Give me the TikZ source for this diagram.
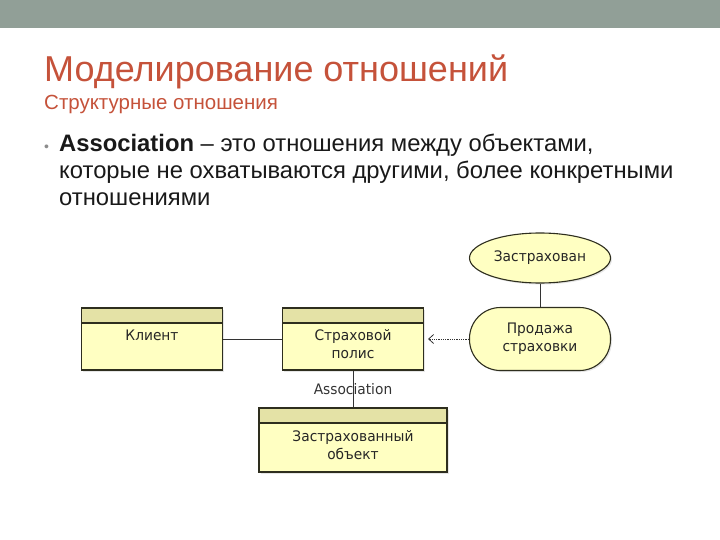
\documentclass[tikz,border=0pt]{standalone}
\usepackage{fontspec}
\setmainfont{Liberation Sans}
\newfontfamily\titlefont{Liberation Sans}
\newfontfamily\diafont[FakeStretch=0.95]{DejaVu Sans}
\usetikzlibrary{positioning,shapes.geometric,arrows.meta,shadows}
\definecolor{barcol}{HTML}{919F97}
\definecolor{titlecol}{HTML}{C5523A}
\definecolor{umlbody}{HTML}{FFFFC2}
\definecolor{umlhead}{HTML}{E4E2A6}
\definecolor{umlline}{HTML}{2E2E1E}
\tikzset{
  umlshadow/.style = {drop shadow={opacity=0.2, shadow xshift=1.5pt, shadow yshift=-1.5pt}},
  clsbox/.style    = {rectangle, draw=umlline, line width=1.1pt, fill=umlbody, umlshadow,
                      align=center, inner sep=0pt, minimum width=141pt,
                      text height=32pt, text depth=30pt,
                      font=\diafont\fontsize{14.5}{18}\selectfont, text=black!85,
                      path picture={
                        \fill[umlhead] (path picture bounding box.north west)
                          rectangle ([yshift=-15pt]path picture bounding box.north east);
                        \draw[umlline, line width=1.1pt]
                          ([yshift=-15pt]path picture bounding box.north west)
                          -- ([yshift=-15pt]path picture bounding box.north east);}},
  usecase/.style   = {draw=umlline, line width=1.1pt, fill=umlbody, umlshadow,
                      align=center, inner sep=0pt, minimum width=141pt,
                      font=\diafont\fontsize{14.5}{18}\selectfont, text=black!85},
  link/.style      = {draw=black!80, line width=0.8pt},
  dep/.style       = {link, densely dotted, -{Straight Barb[length=5pt,width=9pt]}, shorten >=4pt},
}

\begin{document}
\begin{tikzpicture}[x=1pt, y=-1pt]
  \useasboundingbox (0,0) rectangle (720,540);
  \fill[barcol] (0,0) rectangle (720,28);

  % heading
  \node[anchor=base west, inner sep=0pt, text=titlecol,
        font=\titlefont\fontsize{36}{40}\selectfont] (title) at (44,82) {Моделирование отношений};
  \node[anchor=base west, inner sep=0pt, text=titlecol,
        font=\titlefont\fontsize{20.5}{24}\selectfont] (subtitle) at (44,110) {Структурные отношения};

  % bullet
  \node[anchor=base west, inner sep=0pt, text=black!45,
        font=\fontsize{14}{16}\selectfont] (dot) at (44,152) {\textbullet};
  \node[anchor=base west, inner sep=0pt, align=left, text=black!90,
        font=\fontsize{23.8}{27}\selectfont] (bullet) at (59,206)
       {\textbf{Association} – это отношения между объектами,\\
        которые не охватываются другими, более конкретными\\
        отношениями};

  % diagram
  \node[clsbox] (client) at (152,339) {Клиент};
  \node[clsbox, text height=50pt, text depth=12pt] (policy) at (353,339) {Страховой\\полис};
  \node[clsbox, minimum width=188pt, text height=51pt, text depth=13pt]
       (object) at (353,440) {Застрахованный\\объект};
  \node[usecase, ellipse, minimum height=50pt] (insured) at (540,258) {Застрахован};
  \node[usecase, rectangle, rounded corners=31pt, minimum height=63pt] (sale) at (540,339)
       {Продажа\\страховки};

  \draw[link] (client) -- (policy);
  \draw[link] (policy) -- (object)
        node[midway, font=\diafont\fontsize{14.5}{16}\selectfont, text=black!80] (assoc) {Association};
  \draw[link] (insured) -- (sale);
  \draw[dep] (sale) -- (policy);
\end{tikzpicture}
\end{document}
